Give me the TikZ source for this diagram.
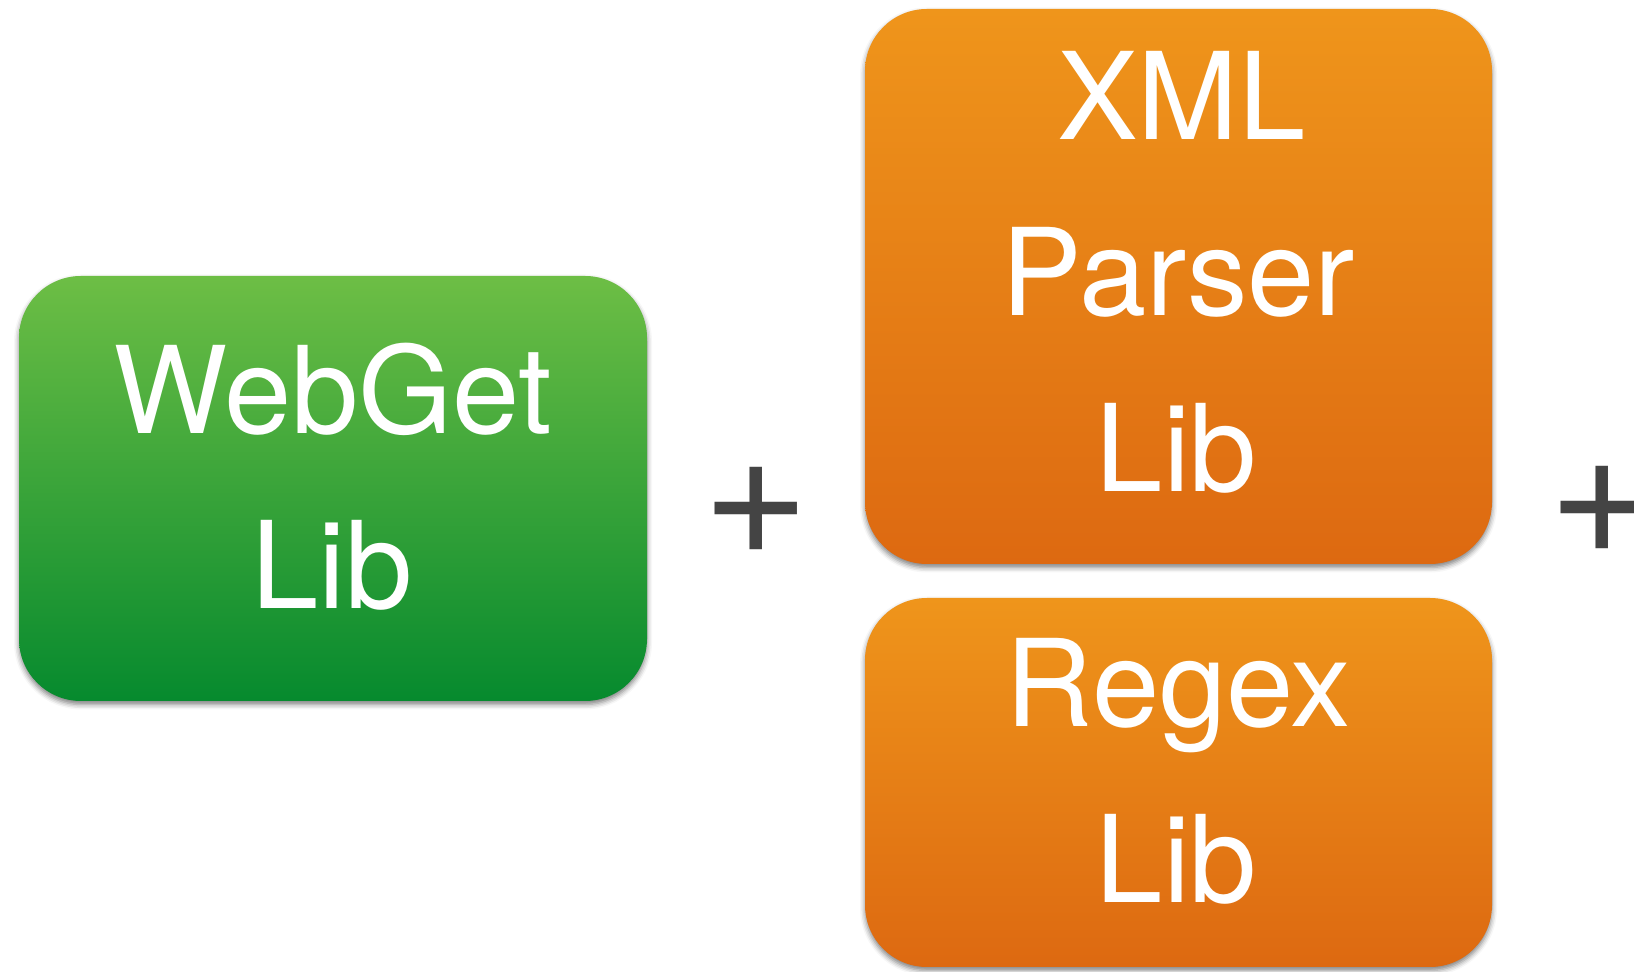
\documentclass[tikz,border=0pt]{standalone}
\usepackage{fontspec}
\setmainfont{TeX Gyre Heros}
\usetikzlibrary{shadows.blur}

\definecolor{greentop}{HTML}{6DBE45}
\definecolor{greenbot}{HTML}{068A2E}
\definecolor{orangetop}{HTML}{EF951B}
\definecolor{orangebot}{HTML}{DD6911}
\definecolor{plusgray}{HTML}{444444}

\tikzset{
  libbox/.style={rectangle, rounded corners=62pt, inner sep=0pt,
    minimum width=628pt,
    blur shadow={shadow xshift=0pt, shadow yshift=-3.5pt,
      shadow blur radius=5pt, shadow opacity=50}},
  greenbox/.style={libbox, top color=greentop, bottom color=greenbot},
  orangebox/.style={libbox, top color=orangetop, bottom color=orangebot},
  lbl/.style={text=white, anchor=base, inner sep=0pt,
    font=\fontsize{121}{170}\selectfont},
  plus/.style={text=plusgray, anchor=base, inner sep=0pt,
    font=\fontsize{184}{190}\selectfont},
}

\begin{document}
\begin{tikzpicture}[x=1pt, y=1pt]
  \useasboundingbox (0,0) rectangle (1634,972);
  \clip (0,0) rectangle (1634,972);

  % library boxes
  \node[greenbox, minimum height=425pt] (web) at (333,483.5) {};
  \node[orangebox, minimum height=555pt, minimum width=627pt] (xml) at (1178.5,685.5) {};
  \node[orangebox, minimum height=369pt, minimum width=627pt] (regex) at (1178.5,189.5) {};

  % box labels, one line each
  \node[lbl] (web1) at ([yshift=54.9pt]web.center) {WebGet};
  \node[lbl] (web2) at ([xshift=-1pt, yshift=-120pt]web.center) {Lib};

  \node[lbl] (xml1) at ([xshift=3pt, yshift=146.9pt]xml.center) {XML};
  \node[lbl] (xml2) at ([xshift=0pt, yshift=-29.2pt]xml.center) {Parser};
  \node[lbl] (xml3) at ([xshift=-2pt, yshift=-205.3pt]xml.center) {Lib};

  \node[lbl] (regex1) at ([xshift=0pt, yshift=56.2pt]regex.center) {Regex};
  \node[lbl] (regex2) at ([xshift=-2pt, yshift=-119.9pt]regex.center) {Lib};

  % plus signs between the libraries
  \node[plus] (plusA) at (756.5,417.5) {+};
  \node[plus] (plusB) at (1602,418) {+};
\end{tikzpicture}
\end{document}
